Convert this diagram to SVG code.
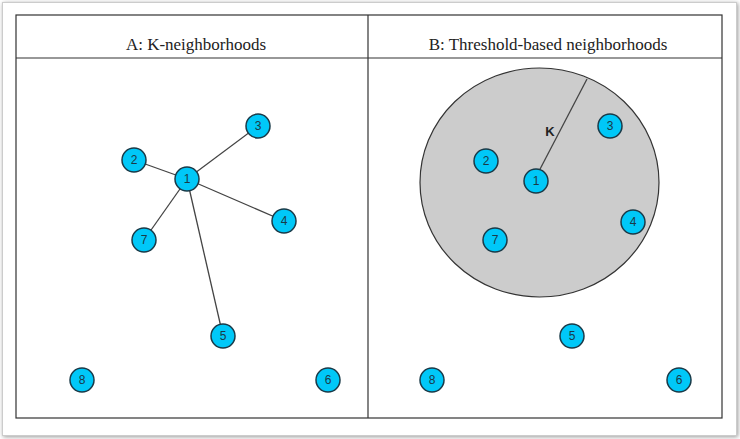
<svg xmlns="http://www.w3.org/2000/svg" width="740" height="439" viewBox="0 0 740 439">
<defs><filter id="sh" x="-5%" y="-5%" width="110%" height="110%"><feDropShadow dx="1" dy="1" stdDeviation="2" flood-color="#999"/></filter></defs>
<style>
.n circle{fill:#00c8f8;stroke:#1a3a48;stroke-width:1.5}
.n text{font-family:"Liberation Sans",Arial,sans-serif;font-size:12px;fill:#1a3a48;text-anchor:middle;dominant-baseline:central}
.h{font-family:"Liberation Serif","Times New Roman",serif;font-size:17px;fill:#222;text-anchor:middle}
.e{stroke:#444;stroke-width:1.3;fill:none}
</style>
<rect x="0" y="0" width="740" height="439" fill="#fff"/>
<rect x="2.5" y="2.5" width="734" height="433" fill="#fff" stroke="#ccc" filter="url(#sh)"/>
<rect x="16" y="15" width="706" height="403" fill="#fff" stroke="#333" stroke-width="1.2"/>
<line x1="16" y1="58" x2="722" y2="58" stroke="#333" stroke-width="1.2"/>
<line x1="368" y1="15" x2="368" y2="418" stroke="#333" stroke-width="1.2"/>
<text class="h" x="196" y="50">A: K-neighborhoods</text>
<text class="h" x="548" y="50">B: Threshold-based neighborhoods</text>
<ellipse cx="539.5" cy="182.5" rx="119.5" ry="114.5" fill="#cccccc" stroke="#333" stroke-width="1.2"/>
<g id="connectors">
<line class="e" x1="187" y1="179" x2="134" y2="160"/>
<line class="e" x1="187" y1="179" x2="258" y2="126"/>
<line class="e" x1="187" y1="179" x2="284" y2="221"/>
<line class="e" x1="187" y1="179" x2="144" y2="240"/>
<line class="e" x1="187" y1="179" x2="223" y2="336"/>
<line class="e" x1="538" y1="173" x2="587" y2="79"/>
</g>
<text x="550" y="136" font-family="Liberation Sans,Arial,sans-serif" font-size="13" font-weight="bold" fill="#222" text-anchor="middle">K</text>
<g id="a1" class="n"><circle cx="187" cy="179" r="12"/><text x="187" y="179">1</text></g>
<g id="a2" class="n"><circle cx="134" cy="160" r="12"/><text x="134" y="160">2</text></g>
<g id="a3" class="n"><circle cx="258" cy="126" r="12"/><text x="258" y="126">3</text></g>
<g id="a4" class="n"><circle cx="284" cy="221" r="12"/><text x="284" y="221">4</text></g>
<g id="a7" class="n"><circle cx="144" cy="240" r="12"/><text x="144" y="240">7</text></g>
<g id="a5" class="n"><circle cx="223" cy="336" r="12"/><text x="223" y="336">5</text></g>
<g id="a8" class="n"><circle cx="82" cy="380" r="12"/><text x="82" y="380">8</text></g>
<g id="a6" class="n"><circle cx="328" cy="380" r="12"/><text x="328" y="380">6</text></g>
<g id="b1" class="n"><circle cx="536" cy="181" r="12"/><text x="536" y="181">1</text></g>
<g id="b2" class="n"><circle cx="486" cy="161" r="12"/><text x="486" y="161">2</text></g>
<g id="b3" class="n"><circle cx="610" cy="126" r="12"/><text x="610" y="126">3</text></g>
<g id="b4" class="n"><circle cx="633" cy="222" r="12"/><text x="633" y="222">4</text></g>
<g id="b7" class="n"><circle cx="495" cy="240" r="12"/><text x="495" y="240">7</text></g>
<g id="b5" class="n"><circle cx="572" cy="336" r="12"/><text x="572" y="336">5</text></g>
<g id="b8" class="n"><circle cx="432" cy="380" r="12"/><text x="432" y="380">8</text></g>
<g id="b6" class="n"><circle cx="679" cy="380" r="12"/><text x="679" y="380">6</text></g>
</svg>
